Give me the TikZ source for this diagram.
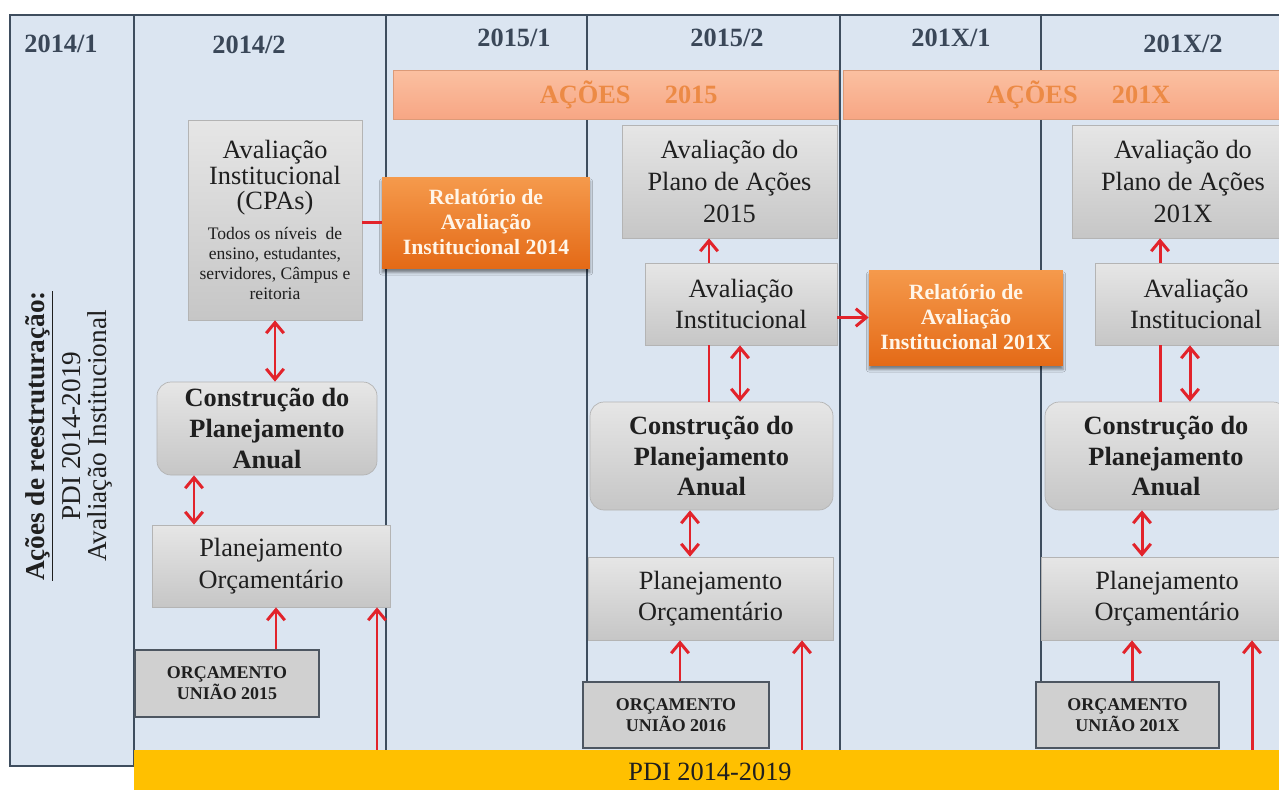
\documentclass[tikz,border=0pt]{standalone}
\usepackage{fontspec}
\setmainfont{Liberation Serif}
\usepackage{tikz}
\usetikzlibrary{calc,arrows.meta,shadows.blur}
\definecolor{colBlue}{HTML}{DBE5F1}
\definecolor{colLine}{HTML}{3E4D5E}
\definecolor{colHead}{HTML}{3A4758}
\definecolor{colText}{HTML}{1F1F1F}
\definecolor{colRed}{HTML}{E2232B}
\definecolor{colGrayTop}{HTML}{E6E6E6}
\definecolor{colGrayBot}{HTML}{C6C6C6}
\definecolor{colGrayEdge}{HTML}{B4B4B4}
\definecolor{colOrcFill}{HTML}{D0D0D0}
\definecolor{colOrcEdge}{HTML}{4D5661}
\definecolor{colOrangeTop}{HTML}{F59A4C}
\definecolor{colOrangeBot}{HTML}{E46A17}
\definecolor{colCream}{HTML}{FFF5E8}
\definecolor{colBarTop}{HTML}{FBC0A1}
\definecolor{colBarBot}{HTML}{F7A684}
\definecolor{colBarEdge}{HTML}{DC9A78}
\definecolor{colBarText}{HTML}{EC8A45}
\definecolor{colYellow}{HTML}{FFC000}
\newcommand{\cpaNote}[1]{{\fontsize{10}{11}\selectfont #1}}

\begin{document}
\begin{tikzpicture}[x=0.02cm, y=-0.02cm]
  \tikzstyle{semester} = [text=colHead, font={\fontsize{15}{18}\selectfont\bfseries}]
  \tikzstyle{actionBar} = [draw=colBarEdge, top color=colBarTop, bottom color=colBarBot, minimum width=8.9cm, minimum height=0.98cm, text=colBarText, font={\fontsize{15}{18}\selectfont\bfseries}]
  \tikzstyle{grayBox} = [draw=colGrayEdge, top color=colGrayTop, bottom color=colGrayBot, align=center, text=colText, font={\fontsize{15}{18}\selectfont}]
  \tikzstyle{buildBox} = [grayBox, rounded corners=0.28cm, font={\fontsize{15}{17.5}\selectfont\bfseries}]
  \tikzstyle{reportBox} = [top color=colOrangeTop, bottom color=colOrangeBot, align=center, text=colCream, blur shadow={shadow xshift=0pt, shadow yshift=-2.5pt, shadow blur radius=1.5pt, shadow opacity=45}, font={\fontsize{12.4}{14.2}\selectfont\bfseries}]
  \tikzstyle{budgetBox} = [draw=colOrcEdge, line width=1.1pt, fill=colOrcFill, align=center, text=colText, font={\fontsize{10.2}{11.8}\selectfont\bfseries}]
  \tikzstyle{columnLine} = [draw=colLine, line width=1.1pt]
  \tikzstyle{redEdgePortion} = [draw=colRed, line width=1.7pt];
  \tikzstyle{redEdge} = [redEdgePortion, -{Straight Barb[length=6pt, width=10pt]}];
  \tikzstyle{redDoubleEdge} = [redEdgePortion, {Straight Barb[length=6pt, width=10pt]}-{Straight Barb[length=6pt, width=10pt]}];

  \useasboundingbox (0,0) rectangle (1279,789);
  \clip (0,0) rectangle (1279,789);

  % semesters
  \fill[colBlue] (134,15) rectangle (1300,750);
  \draw[columnLine, line width=0.8pt, fill=colBlue] (10,15) rectangle (134,766);
  \draw[columnLine] (134,15) -- (1300,15);
  \draw[columnLine] (386,15) -- (386,750);
  \draw[columnLine] (587,15) -- (587,682);
  \draw[columnLine] (840,15) -- (840,750);
  \draw[columnLine] (1041,15) -- (1041,682);

  \node[semester, name=sem141] at (61,44) {2014/1};
  \node[semester, name=sem142] at (249,45) {2014/2};
  \node[semester, name=sem151] at (514,38) {2015/1};
  \node[semester, name=sem152] at (727,38) {2015/2};
  \node[semester, name=sem1X1] at (951,38) {201X/1};
  \node[semester, name=sem1X2] at (1183,44) {201X/2};

  \node[rotate=90, align=center, text=colText, font={\fontsize{15.5}{14.7}\selectfont}, name=sideText] at (69,436)
      {\textbf{\underline{Ações de reestruturação:}}\\[4pt]PDI 2014-2019\\Avaliação Institucional};

  \node[actionBar, name=bar15] at (615.5,94.5) {\hspace{1em}AÇÕES\hspace{1.3em}2015};
  \node[actionBar, name=bar1X] at (1065.5,94.5) {\hspace{1em}AÇÕES\hspace{1.3em}201X};
  \node[fill=colYellow, minimum width=23.04cm, minimum height=0.88cm, text=colText, font={\fontsize{15}{18}\selectfont}, name=pdiBar] at (710,772) {PDI 2014-2019};

  % 2014
  \node[grayBox, font={\fontsize{15}{14.7}\selectfont}, minimum width=3.48cm, minimum height=4cm, name=cpa] at (275,220)
      {Avaliação\\Institucional\\(CPAs)\\[2pt]
       \cpaNote{Todos os níveis\ \ de}\\[-3.2pt]\cpaNote{ensino, estudantes,}\\[-3.2pt]
       \cpaNote{servidores, Câmpus e}\\[-3.2pt]\cpaNote{reitoria}};
  \node[reportBox, minimum width=4.16cm, minimum height=1.82cm, name=rel14] at (486,222.5) {Relatório de\\Avaliação\\Institucional 2014};
  \node[buildBox, minimum width=4.4cm, minimum height=1.86cm, name=cons14] at (267,428.5) {Construção do\\Planejamento\\Anual};
  \node[grayBox, minimum width=4.76cm, minimum height=1.64cm, name=plan14] at (271,566) {Planejamento\\Orçamentário};
  \node[budgetBox, minimum width=3.68cm, minimum height=1.34cm, name=orc14] at (227,683.5) {ORÇAMENTO\\UNIÃO 2015};

  % 2015
  \node[grayBox, minimum width=4.3cm, minimum height=2.26cm, name=aval15] at (729.5,181.5) {Avaliação do\\Plano de Ações\\2015};
  \node[grayBox, minimum width=3.84cm, minimum height=1.64cm, name=inst15] at (741,304) {Avaliação\\Institucional};
  \node[buildBox, minimum width=4.86cm, minimum height=2.16cm, name=cons15] at (711.5,456) {Construção do\\Planejamento\\Anual};
  \node[grayBox, minimum width=4.9cm, minimum height=1.66cm, name=plan15] at (710.5,598.5) {Planejamento\\Orçamentário};
  \node[budgetBox, minimum width=3.72cm, minimum height=1.32cm, name=orc16] at (676,715) {ORÇAMENTO\\UNIÃO 2016};
  \node[reportBox, minimum width=3.88cm, minimum height=1.9cm, name=rel1X] at (966,317.5) {Relatório de\\Avaliação\\Institucional 201X};

  % 201X
  \node[grayBox, minimum width=4.44cm, minimum height=2.26cm, name=aval1X] at (1183,181.5) {Avaliação do\\Plano de Ações\\201X};
  \node[grayBox, minimum width=4.04cm, minimum height=1.64cm, name=inst1X] at (1196,304) {Avaliação\\Institucional};
  \node[buildBox, minimum width=4.84cm, minimum height=2.16cm, name=cons1X] at (1166,456) {Construção do\\Planejamento\\Anual};
  \node[grayBox, minimum width=5.04cm, minimum height=1.66cm, name=plan1X] at (1167,598.5) {Planejamento\\Orçamentário};
  \node[budgetBox, minimum width=3.66cm, minimum height=1.32cm, name=orc1X] at (1127.5,715) {ORÇAMENTO\\UNIÃO 201X};

  % arrow columns
  \coordinate (x14dbl) at (194,0);
  \coordinate (x14orc) at (276,0);
  \coordinate (x14pdi) at (377,0);
  \coordinate (x15up) at (709,0);
  \coordinate (x15dbl) at (740,0);
  \coordinate (x15mid) at (690,0);
  \coordinate (x15orc) at (680,0);
  \coordinate (x15pdi) at (802,0);
  \coordinate (x1Xup) at (1160,0);
  \coordinate (x1Xdbl) at (1190,0);
  \coordinate (x1Xmid) at (1142,0);
  \coordinate (x1Xorc) at (1132,0);
  \coordinate (x1Xpdi) at (1252,0);

  \draw (cpa.east |- rel14.west) edge[redEdgePortion] (rel14.west);
  \draw (cpa.south) edge[redDoubleEdge] (cpa.south |- cons14.north);
  \draw (cons14.south -| x14dbl) edge[redDoubleEdge] (plan14.north -| x14dbl);
  \draw (orc14.north -| x14orc) edge[redEdge] (plan14.south -| x14orc);
  \draw (pdiBar.north -| x14pdi) edge[redEdge] (plan14.south -| x14pdi);

  \draw (inst15.north -| x15up) edge[redEdge] (aval15.south -| x15up);
  \draw (cons15.north -| x15up) edge[redEdgePortion] (inst15.south -| x15up);
  \draw (inst15.south -| x15dbl) edge[redDoubleEdge] (cons15.north -| x15dbl);
  \draw (inst15.east |- rel1X.west) edge[redEdge] (rel1X.west);
  \draw (cons15.south -| x15mid) edge[redDoubleEdge] (plan15.north -| x15mid);
  \draw (orc16.north -| x15orc) edge[redEdge] (plan15.south -| x15orc);
  \draw (pdiBar.north -| x15pdi) edge[redEdge] (plan15.south -| x15pdi);

  \draw (inst1X.north -| x1Xup) edge[redEdge] (aval1X.south -| x1Xup);
  \draw (cons1X.north -| x1Xup) edge[redEdgePortion] (inst1X.south -| x1Xup);
  \draw (inst1X.south -| x1Xdbl) edge[redDoubleEdge] (cons1X.north -| x1Xdbl);
  \draw (cons1X.south -| x1Xmid) edge[redDoubleEdge] (plan1X.north -| x1Xmid);
  \draw (orc1X.north -| x1Xorc) edge[redEdge] (plan1X.south -| x1Xorc);
  \draw (pdiBar.north -| x1Xpdi) edge[redEdge] (plan1X.south -| x1Xpdi);
\end{tikzpicture}
\end{document}
